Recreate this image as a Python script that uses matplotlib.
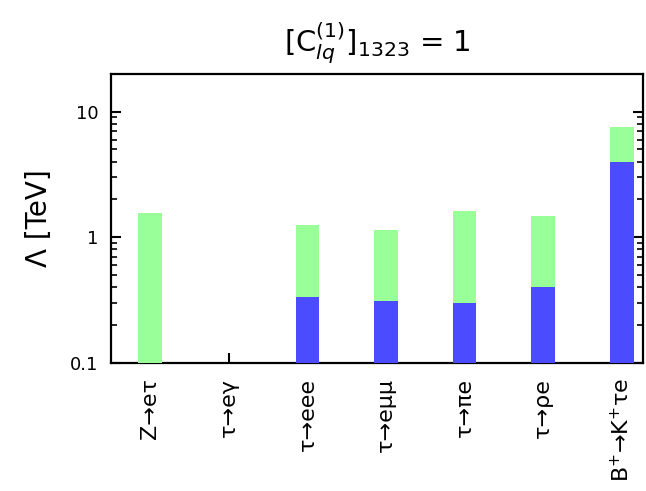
import numpy as np
import matplotlib
matplotlib.use("Agg")
import matplotlib.pyplot as plt
from matplotlib.ticker import LogLocator, NullFormatter, FixedLocator, FixedFormatter

# channels and bounds on Lambda [TeV] (nan = no bound shown)
channels = ["Z→eτ", "τ→eγ", "τ→eee", "τ→eμμ", "τ→πe", "τ→ρe", r"B$^{+}$→K$^{+}$τe"]
lam_green = [1.55, np.nan, 1.24, 1.14, 1.63, 1.48, 7.6]
lam_blue = [np.nan, np.nan, 0.331, 0.31, 0.30, 0.40, 3.95]

green = "#99ff99"
blue = "#4b4bff"

fig = plt.figure(figsize=(6.46, 4.91), dpi=100)
ax = fig.add_axes([0.1718, 0.2617, 0.8236, 0.5876])

x = np.arange(len(channels))
bottom = 0.1
g = np.array(lam_green) - bottom
b = np.array(lam_blue) - bottom
ax.bar(x, g, bottom=bottom, width=0.3, color=green, edgecolor="none", zorder=3)
ax.bar(x, b, bottom=bottom, width=0.3, color=blue, edgecolor="none", zorder=4)

ax.set_yscale("log")
ax.set_ylim(0.1, 20)
ax.set_xlim(-0.5, 6.27)

ax.yaxis.set_major_locator(FixedLocator([0.1, 1, 10]))
ax.yaxis.set_major_formatter(FixedFormatter(["0.1", "1", "10"]))
ax.yaxis.set_minor_locator(LogLocator(base=10, subs=np.arange(2, 10)))
ax.yaxis.set_minor_formatter(NullFormatter())

ax.set_xticks(x)
ax.set_xticklabels(channels, rotation=90, fontsize=16)
ax.tick_params(axis="y", which="both", direction="in", left=True, right=True,
               labelsize=13, pad=9)
ax.tick_params(axis="y", which="major", length=7, width=1.5)
ax.tick_params(axis="y", which="minor", length=4, width=1.2)
ax.tick_params(axis="x", direction="in", length=7, width=1.5, top=False, pad=11)

for s in ax.spines.values():
    s.set_linewidth(1.6)

ax.set_ylabel("Λ [TeV]", fontsize=20, labelpad=12)
ax.set_title(r"[C$_{lq}^{(1)}$]$_{1323}$ = 1", fontsize=21, pad=16)

fig.savefig("out.png", dpi=100)
